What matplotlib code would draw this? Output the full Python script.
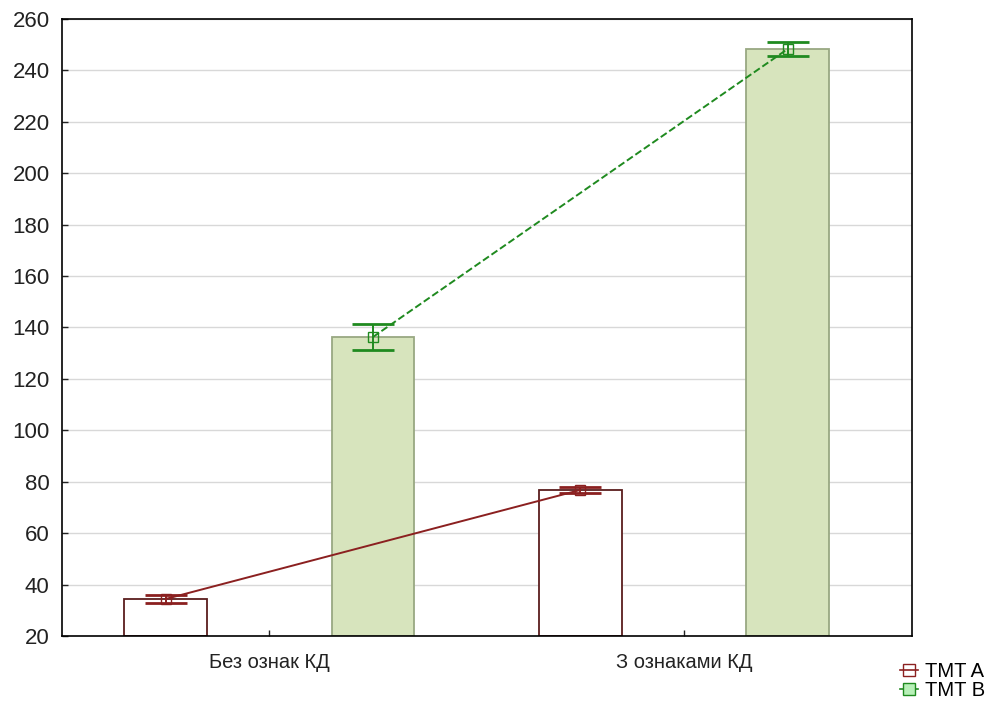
import matplotlib.pyplot as plt
from matplotlib.lines import Line2D
import numpy as np

plt.rcParams['font.family'] = ['Liberation Sans', 'DejaVu Sans']

categories = ['Без ознак КД', 'З ознаками КД']
tmt_a = [34.4, 76.8]
tmt_a_err = [1.4, 1.2]
tmt_b = [136.3, 248.3]
tmt_b_err = [5.0, 2.8]
y_ticks = list(range(20, 261, 20))

red = '#8b2020'
green = '#1f8a1f'

fig = plt.figure(figsize=(9.97, 7.13), dpi=100)
ax = fig.add_axes([0.0622, 0.108, 0.8525, 0.8654])

x = np.arange(len(categories))
off = 0.25
w = 0.2

ax.bar(x - off, np.array(tmt_a) - 20, w, bottom=20, color='white',
       edgecolor='#5a1e1e', linewidth=1.3, zorder=2)
ax.bar(x + off, np.array(tmt_b) - 20, w, bottom=20, color='#d7e4bd',
       edgecolor='#98a882', linewidth=1.3, zorder=2)

ax.errorbar(x - off, tmt_a, yerr=tmt_a_err, color=red, lw=1.4, capsize=15,
            capthick=2, marker='s', markersize=6.5, markerfacecolor='none',
            markeredgecolor=red, zorder=3)
ax.errorbar(x + off, tmt_b, yerr=tmt_b_err, color=green, lw=1.4, ls='--',
            capsize=15, capthick=2, marker='s', markersize=6.5,
            markerfacecolor='none', markeredgecolor=green, zorder=3)

ax.set_xlim(-0.5, 1.55)
ax.set_ylim(20, 260)
ax.set_yticks(y_ticks)
ax.set_xticks(x)
ax.set_xticklabels(categories)
ax.yaxis.grid(True, color='#d8d8d8', lw=1, zorder=0)
ax.set_axisbelow(True)
ax.tick_params(axis='both', direction='in', length=4, colors='#222222',
               width=1)
ax.tick_params(axis='y', pad=9, labelsize=16)
ax.tick_params(axis='x', pad=12, labelsize=14.5)
for s in ax.spines.values():
    s.set_linewidth(1.2)

handles = [
    Line2D([], [], color=red, marker='s', markersize=8, markerfacecolor='none',
           lw=1.2, label='TMT A'),
    Line2D([], [], color=green, marker='s', markersize=8,
           markerfacecolor='#b8f0b8', lw=1.2, label='TMT B'),
]
fig.legend(handles=handles, loc='upper left', bbox_to_anchor=(0.895, 0.083),
           frameon=False, fontsize=14.5, handlelength=0.9, handletextpad=0.3,
           labelspacing=0.02, borderaxespad=0)

fig.savefig('out.png', dpi=100)
